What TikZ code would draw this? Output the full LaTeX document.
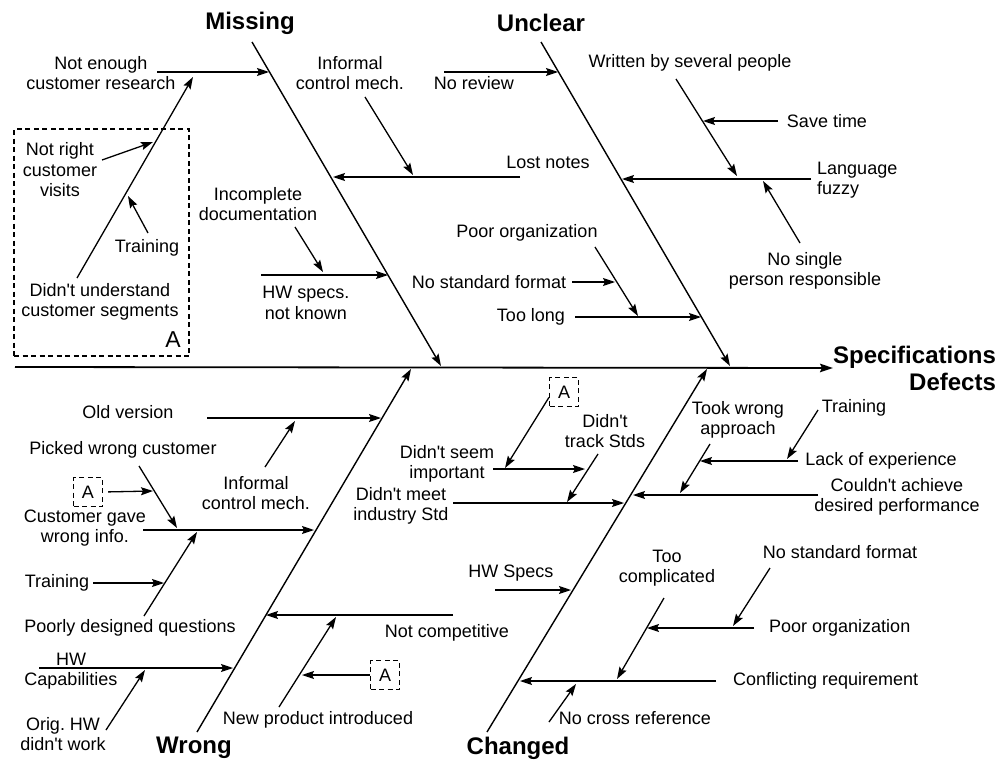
\documentclass[tikz,border=0pt]{standalone}
\usepackage{fontspec}
\setmainfont{Liberation Sans}
\usetikzlibrary{arrows.meta}
\newcommand{\causefont}{\fontsize{18}{20.5}\selectfont}
\newcommand{\catfont}{\fontsize{24}{27}\selectfont\bfseries}
\newcommand{\bigAfont}{\fontsize{23}{26}\selectfont}
\newcommand{\apos}{\textquotesingle}
\tikzset{
  spine/.style={line width=1.8pt, -{Stealth[length=13pt,width=8.5pt,inset=2pt]}},
  bone/.style={line width=1.4pt, -{Stealth[length=12pt,width=8pt,inset=2pt]}},
  twig/.style={line width=1.3pt, -{Stealth[length=12pt,width=8pt,inset=2pt]}},
  cause/.style={font=\causefont, align=center, inner sep=0pt},
  category/.style={font=\catfont, align=center, inner sep=0pt},
  refbox/.style={draw, line width=1.2pt, dash pattern=on 5pt off 3.5pt, inner sep=0pt},
  refsmall/.style={refbox, minimum width=29pt, minimum height=29pt, font=\causefont},
}

\begin{document}
\begin{tikzpicture}[x=1pt,y=-1pt]
  \path[use as bounding box] (0,0) rectangle (1001,760);

  % Spine and effect.
  \coordinate (tail) at (15,367);
  \node[category, anchor=west, align=right] (effect) at (833,368)
    {Specifications\\Defects};
  \draw[spine] (tail) -- (effect.west);

  % Missing bone.
  \node[category] (missing) at (250,23) {Missing};
  \coordinate (M0) at (252,42);
  \coordinate (M1) at (441,366);
  \draw[bone] (M0) -- (M1);

  \node[cause] (research) at (101,73) {Not enough\\customer research};
  \coordinate (R0) at (157,72);
  \coordinate (R1) at (269,72);
  \draw[twig] (R0) -- (R1);

  \node[refbox, minimum width=175pt, minimum height=227pt] (boxA) at (101.5,242.5) {};
  \node[font=\bigAfont, anchor=south east, inner sep=0pt] (bigA) at (181,348) {A};
  \node[cause] (segments) at (100,302) {Didn\apos t understand\\customer segments};
  \coordinate (S0) at (77,278);
  \coordinate (S1) at (193,77);
  \draw[twig] (S0) -- (S1);
  \node[cause] (visits) at (60,170) {Not right\\customer\\visits};
  \coordinate (V0) at (102,160);
  \coordinate (V1) at (153,142);
  \draw[twig] (V0) -- (V1);
  \node[cause] (trainA) at (147,248) {Training};
  \coordinate (T0) at (148,233);
  \coordinate (T1) at (128,196);
  \draw[twig] (T0) -- (T1);

  \node[cause] (informalM) at (350,73) {Informal\\control mech.};
  \coordinate (I0) at (365,97);
  \coordinate (I1) at (413,175);
  \draw[twig] (I0) -- (I1);
  \node[cause] (lost) at (548,162) {Lost notes};
  \coordinate (L0) at (520,177);
  \coordinate (L1) at (333,177);
  \draw[twig] (L0) -- (L1);

  \node[cause] (incomplete) at (258,204) {Incomplete\\documentation};
  \coordinate (D0) at (295,227);
  \coordinate (D1) at (323,272);
  \draw[twig] (D0) -- (D1);
  \node[cause] (hwspecs) at (306,303) {HW specs.\\not known};
  \coordinate (H0) at (261,275);
  \coordinate (H1) at (388,275);
  \draw[twig] (H0) -- (H1);

  % Unclear bone.
  \node[category] (unclear) at (541,23) {Unclear};
  \coordinate (U0) at (541,42);
  \coordinate (U1) at (730,366);
  \draw[bone] (U0) -- (U1);

  \node[cause] (review) at (474,83) {No review};
  \coordinate (N0) at (444,72);
  \coordinate (N1) at (558,72);
  \draw[twig] (N0) -- (N1);

  \node[cause] (written) at (690,63) {Written by several people};
  \coordinate (W0) at (676,79);
  \coordinate (W1) at (737,176);
  \draw[twig] (W0) -- (W1);
  \node[cause] (savetime) at (827,121) {Save time};
  \coordinate (ST0) at (778,121);
  \coordinate (ST1) at (703,121);
  \draw[twig] (ST0) -- (ST1);
  \node[cause, align=left, anchor=west] (fuzzy) at (817,180) {Language\\fuzzy};
  \coordinate (F0) at (811,179);
  \coordinate (F1) at (622,179);
  \draw[twig] (F0) -- (F1);
  \node[cause] (single) at (805,271) {No single\\person responsible};
  \coordinate (P0) at (800,243);
  \coordinate (P1) at (763,181);
  \draw[twig] (P0) -- (P1);

  \node[cause] (poororgU) at (527,233) {Poor organization};
  \coordinate (O0) at (595,247);
  \coordinate (O1) at (638,316);
  \draw[twig] (O0) -- (O1);
  \node[cause] (formatU) at (489,282) {No standard format};
  \coordinate (SF0) at (572,282);
  \coordinate (SF1) at (615,282);
  \draw[twig] (SF0) -- (SF1);
  \node[cause] (toolong) at (531,317) {Too long};
  \coordinate (TL0) at (575,317);
  \coordinate (TL1) at (701,317);
  \draw[twig] (TL0) -- (TL1);

  % Wrong bone.
  \node[category] (wrong) at (194,748) {Wrong};
  \coordinate (G0) at (197,732);
  \coordinate (G1) at (411,369);
  \draw[bone] (G0) -- (G1);

  \node[cause] (oldver) at (128,412) {Old version};
  \coordinate (OV0) at (207,418);
  \coordinate (OV1) at (381,418);
  \draw[twig] (OV0) -- (OV1);
  \node[cause] (informalW) at (256,493) {Informal\\control mech.};
  \coordinate (IW0) at (265,467);
  \coordinate (IW1) at (295,421);
  \draw[twig] (IW0) -- (IW1);

  \node[cause] (picked) at (123,450) {Picked wrong customer};
  \coordinate (PW0) at (139,466);
  \coordinate (PW1) at (177,528);
  \draw[twig] (PW0) -- (PW1);
  \node[refsmall] (refW1) at (88,492) {A};
  \coordinate (AW1) at (153,491);
  \draw[twig, shorten <=5pt] (refW1.east) -- (AW1);
  \node[cause] (gave) at (85,528) {Customer gave\\wrong info.};
  \coordinate (CG0) at (143,530);
  \coordinate (CG1) at (314,530);
  \draw[twig] (CG0) -- (CG1);
  \coordinate (PQ0) at (144,616);
  \coordinate (PQ1) at (197,532);
  \draw[twig] (PQ0) -- (PQ1);
  \node[cause] (trainW) at (57,583) {Training};
  \coordinate (TW1) at (164,583);
  \draw[twig, shorten <=4pt] (trainW.east) -- (TW1);
  \node[cause] (questions) at (130,628) {Poorly designed questions};

  \node[cause] (hwcap) at (71,671) {HW\\Capabilities};
  \coordinate (HC0) at (39,668);
  \coordinate (HC1) at (233,668);
  \draw[twig] (HC0) -- (HC1);
  \node[cause] (orighw) at (63,734) {Orig.\ HW\\didn\apos t work};
  \coordinate (OH0) at (106,730);
  \coordinate (OH1) at (145,670);
  \draw[twig] (OH0) -- (OH1);

  \node[cause] (competitive) at (447,633) {Not competitive};
  \coordinate (NC0) at (453,615);
  \coordinate (NC1) at (266,615);
  \draw[twig] (NC0) -- (NC1);
  \node[cause] (newprod) at (318,720) {New product introduced};
  \coordinate (NP0) at (279,707);
  \coordinate (NP1) at (336,617);
  \draw[twig] (NP0) -- (NP1);
  \node[refsmall] (refW2) at (385,675) {A};
  \coordinate (AW2) at (302,675);
  \draw[twig] (refW2.west) -- (AW2);

  % Changed bone.
  \node[category] (changed) at (518,748) {Changed};
  \coordinate (C0) at (487,732);
  \coordinate (C1) at (707,369);
  \draw[bone] (C0) -- (C1);

  \node[refsmall] (refC) at (564,392) {A};
  \coordinate (AC1) at (505,468);
  \draw[twig] (refC.200) -- (AC1);
  \node[cause] (seem) at (447,464) {Didn\apos t seem\\important};
  \coordinate (DS0) at (493,469);
  \coordinate (DS1) at (585,469);
  \draw[twig] (DS0) -- (DS1);
  \node[cause] (track) at (605,431) {Didn\apos t\\track Stds};
  \coordinate (DT0) at (598,454);
  \coordinate (DT1) at (567,502);
  \draw[twig] (DT0) -- (DT1);
  \node[cause] (meet) at (401,506) {Didn\apos t meet\\industry Std};
  \coordinate (DM0) at (453,503);
  \coordinate (DM1) at (624,503);
  \draw[twig] (DM0) -- (DM1);

  \node[cause] (approach) at (738,420) {Took wrong\\approach};
  \coordinate (TA0) at (710,444);
  \coordinate (TA1) at (680,493);
  \draw[twig] (TA0) -- (TA1);
  \node[cause] (trainC) at (854,408) {Training};
  \coordinate (TC0) at (818,410);
  \coordinate (TC1) at (787,459);
  \draw[twig] (TC0) -- (TC1);
  \node[cause] (lack) at (881,461) {Lack of experience};
  \coordinate (LE0) at (798,461);
  \coordinate (LE1) at (700,461);
  \draw[twig] (LE0) -- (LE1);
  \node[cause] (achieve) at (897,497) {Couldn\apos t achieve\\desired performance};
  \coordinate (CA0) at (818,495);
  \coordinate (CA1) at (633,495);
  \draw[twig] (CA0) -- (CA1);

  \node[cause] (hwspecsC) at (511,573) {HW Specs};
  \coordinate (HS0) at (495,590);
  \coordinate (HS1) at (571,590);
  \draw[twig] (HS0) -- (HS1);
  \node[cause] (complicated) at (667,568) {Too\\complicated};
  \coordinate (TC2) at (664,598);
  \coordinate (TC3) at (617,679);
  \draw[twig] (TC2) -- (TC3);
  \node[cause] (formatC) at (840,552) {No standard format};
  \coordinate (SC0) at (770,568);
  \coordinate (SC1) at (733,626);
  \draw[twig] (SC0) -- (SC1);
  \node[cause, anchor=west] (poororgC) at (769,628) {Poor organization};
  \coordinate (PC0) at (754,628);
  \coordinate (PC1) at (647,628);
  \draw[twig] (PC0) -- (PC1);
  \node[cause, anchor=west] (conflict) at (733,681) {Conflicting requirement};
  \coordinate (CR0) at (716,681);
  \coordinate (CR1) at (520,681);
  \draw[twig] (CR0) -- (CR1);
  \node[cause] (crossref) at (635,718) {No cross reference};
  \coordinate (XR0) at (549,722);
  \coordinate (XR1) at (576,684);
  \draw[twig] (XR0) -- (XR1);
\end{tikzpicture}
\end{document}
